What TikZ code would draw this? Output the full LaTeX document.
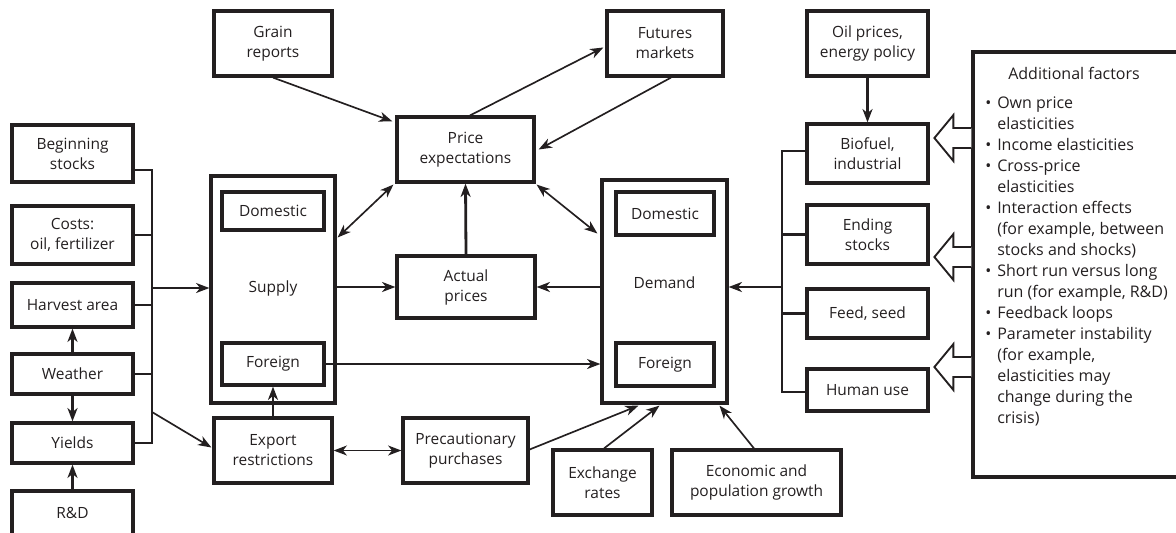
\documentclass[tikz,border=0pt]{standalone}
\usepackage{fontspec}
\setmainfont{Open Sans}
\usetikzlibrary{arrows.meta,calc}
\newcommand\boxfont{\fontsize{11.6}{15}\selectfont}
\newcommand\listfont{\fontsize{12}{15.75}\selectfont}
\newcommand\mkbox[6]{\node[box, minimum width=#4*0.75pt, minimum height=#5*0.75pt] (#1) at (#2,#3) {#6};}
\newcommand\bul{\makebox[9pt][l]{\textbullet}}
\newcommand\ind{\hspace*{9pt}}
\definecolor{ink}{HTML}{231F20}
\tikzset{
  box/.style={draw=ink, text=ink, line width=2.4pt, inner sep=0pt, align=center, font=\boxfont},
  lbl/.style={inner sep=0pt, align=center, text=ink, font=\boxfont},
  conn/.style={draw=ink, line width=1.25pt},
  thk/.style={draw=ink, line width=2.1pt},
  bus/.style={draw=ink, line width=1.7pt},
  hollow/.style={draw=ink, fill=white, line width=1.4pt, line join=miter},
}
\begin{document}
\begin{tikzpicture}[x=0.75pt, y=-0.75pt, >={Stealth[length=10pt,width=7.5pt,inset=3pt]}, line join=miter]
\useasboundingbox (0,0) rectangle (1176,532);
\clip (0,0) rectangle (1176,532);
% left column
\mkbox{begin}{72.5}{153.5}{121}{57}{Beginning\\stocks}
\mkbox{costs}{72.5}{235}{121}{58}{Costs:\\oil, fertilizer}
\mkbox{harvest}{72.5}{305}{121}{44}{Harvest area}
\mkbox{weather}{72.5}{374}{121}{40}{Weather}
\mkbox{yields}{72.5}{443}{121}{40}{Yields}
\mkbox{rd}{72.5}{513}{121}{44}{R\&D}
% supply
\mkbox{supply}{273}{289.5}{124}{227}{}
\mkbox{sdom}{273}{211}{102}{38}{Domestic}
\mkbox{sfor}{273}{364}{102}{42}{Foreign}
\node[lbl] (supplyl) at (273,288) {Supply};
% centre
\mkbox{grain}{273}{43.5}{118}{65}{Grain\\reports}
\mkbox{priceexp}{465.5}{149.5}{137}{65}{Price\\expectations}
\mkbox{actual}{466}{287}{138}{62}{Actual\\prices}
\mkbox{futures}{665}{43.5}{116}{65}{Futures\\markets}
\mkbox{export}{273}{450.5}{118}{65}{Export\\restrictions}
\mkbox{precaution}{465.5}{450.5}{125}{65}{Precautionary\\purchases}
% demand
\mkbox{demand}{664.5}{291.5}{125}{223}{}
\mkbox{ddom}{665}{213.5}{98}{43}{Domestic}
\mkbox{dfor}{665}{364.5}{98}{43}{Foreign}
\node[lbl] (demandl) at (664.5,283) {Demand};
\mkbox{exchange}{602.5}{482.5}{99}{65}{Exchange\\rates}
\mkbox{econ}{756.5}{482.5}{169}{65}{Economic and\\population growth}
% right column
\mkbox{oil}{867.5}{43.5}{121}{65}{Oil prices,\\energy policy}
\mkbox{biofuel}{867.5}{153.5}{121}{59}{Biofuel,\\industrial}
\mkbox{ending}{867.5}{234.5}{121}{59}{Ending\\stocks}
\mkbox{feed}{867.5}{313.5}{121}{49}{Feed, seed}
\mkbox{human}{867.5}{390}{121}{42}{Human use}
% additional factors
\mkbox{addl}{1086.5}{264.5}{227}{425}{}
\node[lbl, font=\listfont] (addlt) at (1074,73) {Additional factors};
\node[inner sep=0pt, anchor=north west, align=left, text=ink, font=\listfont] (addll) at (985,96) {%
\bul Own price\\
\ind elasticities\\
\bul Income elasticities\\
\bul Cross-price\\
\ind elasticities\\
\bul Interaction effects\\
\ind (for example, between\\
\ind stocks and shocks)\\
\bul Short run versus long\\
\ind run (for example, R\&D)\\
\bul Feedback loops\\
\bul Parameter instability\\
\ind (for example,\\
\ind elasticities may\\
\ind change during the\\
\ind crisis)};
% left bus
\coordinate (lb1) at (152,170);
\coordinate (lb2) at (152,443);
\draw[bus] (begin.east |- lb1) -- (lb1) -- (lb2) -- (yields.east |- lb2);
\draw[bus] (costs.east) -- (costs.east -| lb1);
\draw[bus] (harvest.east) -- (harvest.east -| lb1);
\draw[bus] (weather.east) -- (weather.east -| lb1);
\coordinate (lbs) at (152,288);
\draw[conn,->] (lbs) -- (supply.west |- lbs);
\coordinate (lbe) at (152,412);
\draw[conn,->] (lbe) -- ($(export.west)+(-1,-3)$);
\draw[thk,->] (weather.north) -- (harvest.south);
\draw[thk,->] (weather.south) -- (yields.north);
\draw[thk,->] (rd.north) -- (yields.south);
% centre connectors
\draw[conn,->] (grain.south) -- ($(priceexp.north west)+(-3,6)$);
\draw[conn,->] ($(priceexp.north)+(4.5,0)$) -- ($(futures.west)+(-2,4)$);
\draw[conn,->] ($(futures.south)+(6,0)$) -- ($(priceexp.east)+(3,0)$);
\draw[conn,<->] ($(supply.east)+(1,-52)$) -- ($(priceexp.south west)+(-2,1)$);
\draw[conn,<->] ($(priceexp.south east)+(1,1)$) -- ($(demand.west)+(-3,-58)$);
\draw[thk,->] (actual.north) -- (priceexp.south);
\draw[thk,->] (supply.east |- actual.west) -- (actual.west);
\draw[thk,->] (demand.west |- actual.east) -- (actual.east);
\draw[conn,->] (sfor.east) -- (demand.west |- sfor.east);
\draw[thk,->] (export.north) -- (sfor.south);
\draw[conn,<->] (export.east) -- (precaution.west);
\draw[conn,->] ($(precaution.east)+(0,-1)$) -- ($(demand.south)+(-26,1)$);
\draw[conn,->] ($(exchange.north)+(1.5,0)$) -- ($(demand.south)+(-5,1)$);
\draw[conn,->] ($(econ.north)+(-2.5,0)$) -- ($(demand.south)+(55,1)$);
% right side
\draw[thk,->] (oil.south) -- (biofuel.north);
\coordinate (rb1) at (782,151);
\coordinate (rb2) at (782,392);
\draw[bus] (biofuel.west |- rb1) -- (rb1) -- (rb2) -- (human.west |- rb2);
\draw[bus] (ending.west) -- (ending.west -| rb1);
\draw[bus] (feed.west) -- (feed.west -| rb1);
\coordinate (rbd) at (782,287);
\draw[thk,->] (rbd) -- (demand.east |- rbd);
% hollow arrows
\foreach \yy in {138,257,367}{
  \draw[hollow] ($(addl.west |- 0,\yy)+(0,-10)$) -- ++(-18,0) -- ++(0,-13) -- ++(-19,23) -- ++(19,23) -- ++(0,-13) -- ++(18,0);
}
\end{tikzpicture}
\end{document}
